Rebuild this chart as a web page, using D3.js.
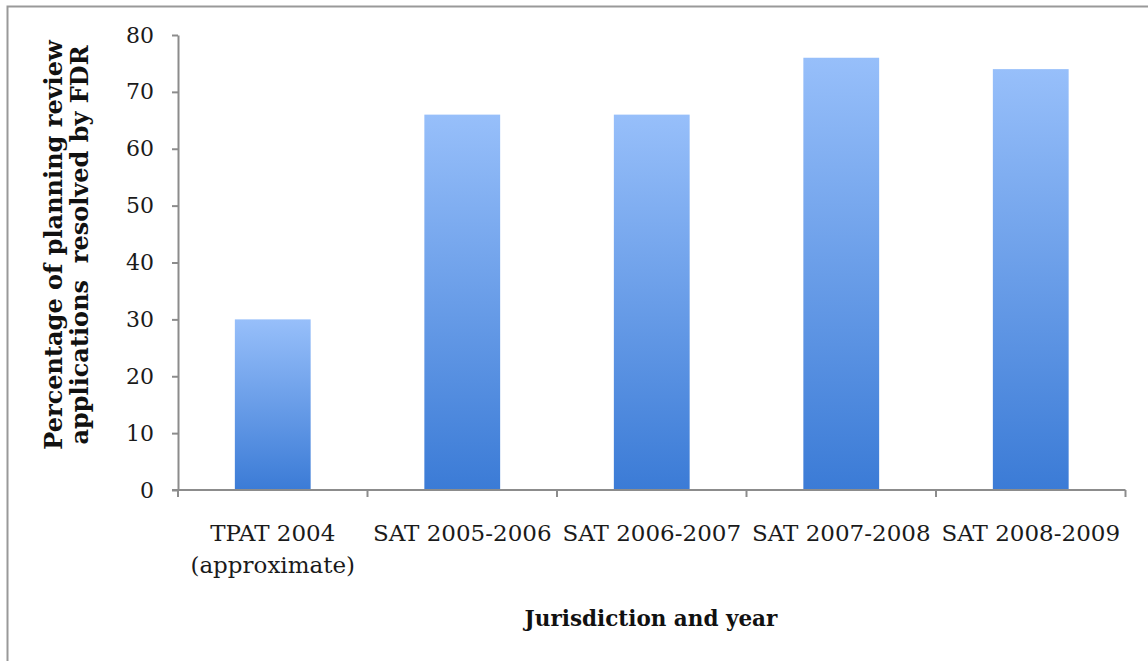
<!DOCTYPE html>
<html>
<head>
<meta charset="utf-8">
<script src="https://cdn.jsdelivr.net/npm/d3@7"></script>
<style>
  body { margin: 0; background: #fff; }
  svg { display: block; }
  .axis path, .axis line { stroke: #8c8c8c; }
  .axis text { font-family: "DejaVu Serif", serif; font-size: 22px; fill: #1a1a1a; }
  .axis text.cat { font-size: 23px; }
</style>
</head>
<body>
<svg id="chart"></svg>
<script>
const categories = [
  ['TPAT 2004', '(approximate)'],
  ['SAT 2005-2006'],
  ['SAT 2006-2007'],
  ['SAT 2007-2008'],
  ['SAT 2008-2009']
];
const values = [30, 66, 66, 76, 74];
const yTicks = [0, 10, 20, 30, 40, 50, 60, 70, 80];

const width = 1148;
const height = 661;
const margin = {top: 35, right: 22, bottom: 171, left: 178};

const svg = d3.select('#chart')
  .attr('width', width)
  .attr('height', height);

// frame (right and bottom edges sit outside the picture)
svg.append('rect')
  .attr('x', 7.5).attr('y', 6.5)
  .attr('width', width).attr('height', height)
  .attr('fill', 'none')
  .attr('stroke', '#999')
  .attr('stroke-width', 2);

const grad = svg.append('defs').append('linearGradient')
  .attr('id', 'barGrad')
  .attr('x1', 0).attr('y1', 0).attr('x2', 0).attr('y2', 1);
grad.append('stop').attr('offset', '0%').attr('stop-color', '#97bffa');
grad.append('stop').attr('offset', '100%').attr('stop-color', '#3b7bd6');

const keys = categories.map((c, i) => i);

const xScale = d3.scaleBand()
  .domain(keys)
  .range([margin.left, width - margin.right - 0.5])
  .paddingInner(0.6)
  .paddingOuter(0.3);

const yScale = d3.scaleLinear()
  .domain([0, 80])
  .range([height - margin.bottom, margin.top]);

// the ticks of the category axis sit between the bars
const band = d3.scaleBand()
  .domain(keys)
  .range([margin.left, width - margin.right - 0.5]);

svg.append('g')
  .selectAll('rect')
  .data(values)
  .join('rect')
  .attr('x', (d, i) => xScale(i))
  .attr('y', d => yScale(d))
  .attr('width', xScale.bandwidth())
  .attr('height', d => yScale(0) - yScale(d))
  .attr('fill', 'url(#barGrad)');

const yAxis = svg.append('g')
  .attr('class', 'axis')
  .attr('transform', `translate(${margin.left}, 0)`)
  .call(d3.axisLeft(yScale).tickValues(yTicks).tickSize(6).tickSizeOuter(0).tickPadding(18));
yAxis.selectAll('path, line').attr('stroke-width', 2);

const xAxisG = svg.append('g')
  .attr('class', 'axis')
  .attr('transform', `translate(0, ${yScale(0)})`);
xAxisG.append('line')
  .attr('x1', margin.left - 6).attr('x2', band.range()[1])
  .attr('stroke-width', 2);
xAxisG.selectAll('.tick')
  .data(keys.concat([keys.length]))
  .join('line')
  .attr('x1', i => i < keys.length ? band(i) : band.range()[1])
  .attr('x2', i => i < keys.length ? band(i) : band.range()[1])
  .attr('y1', 0).attr('y2', 7)
  .attr('stroke-width', 2);

const labels = xAxisG.selectAll('text.cat')
  .data(categories)
  .join('text')
  .attr('class', 'cat')
  .attr('text-anchor', 'middle')
  .attr('x', (d, i) => xScale(i) + xScale.bandwidth() / 2)
  .attr('y', 51);
labels.selectAll('tspan')
  .data(d => d)
  .join('tspan')
  .attr('x', function() { return this.parentNode.getAttribute('x'); })
  .attr('dy', (d, j) => j === 0 ? 0 : 32)
  .text(d => d);

svg.append('text')
  .attr('x', 651)
  .attr('y', 626)
  .attr('text-anchor', 'middle')
  .attr('font-family', '"DejaVu Serif", serif')
  .attr('font-weight', 'bold')
  .attr('font-size', 21.5)
  .attr('fill', '#111')
  .text('Jurisdiction and year');

const yTitle = svg.append('text')
  .attr('transform', 'translate(62, 245) rotate(-90)')
  .attr('text-anchor', 'middle')
  .attr('font-family', '"DejaVu Serif", serif')
  .attr('font-weight', 'bold')
  .attr('font-size', 24)
  .attr('fill', '#111');
yTitle.append('tspan').attr('x', 0).attr('dy', 0).text('Percentage of planning review');
yTitle.append('tspan').attr('x', 0).attr('dy', 26).attr('xml:space', 'preserve').text('applications  resolved by FDR');
</script>
</body>
</html>
